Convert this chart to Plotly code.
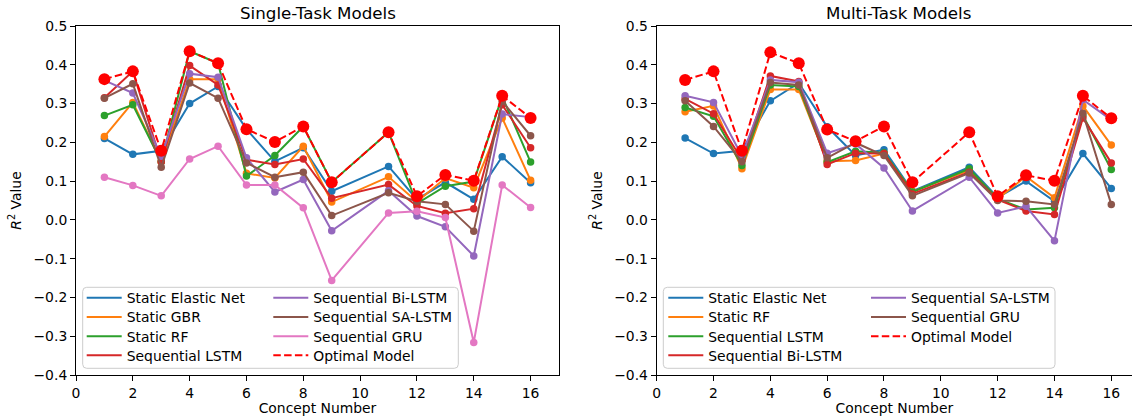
import plotly.graph_objects as go

# ---------------- data ----------------
concepts = [1, 2, 3, 4, 5, 6, 7, 8, 9, 11, 12, 13, 14, 15, 16]
x_ticks = [0, 2, 4, 6, 8, 10, 12, 14, 16]
y_ticks = [-0.4, -0.3, -0.2, -0.1, 0.0, 0.1, 0.2, 0.3, 0.4, 0.5]

# Single-task models
st_elastic_net = [0.210, 0.169, 0.178, 0.300, 0.344, 0.234, 0.151, 0.186, 0.074, 0.138, 0.053, 0.097, 0.053, 0.163, 0.096]
st_gbr         = [0.215, 0.303, 0.150, 0.363, 0.363, 0.120, 0.108, 0.190, 0.046, 0.111, 0.047, 0.108, 0.083, 0.263, 0.102]
st_rf          = [0.269, 0.297, 0.150, 0.435, 0.404, 0.113, 0.166, 0.241, 0.097, 0.226, 0.042, 0.087, 0.099, 0.318, 0.149]
st_lstm        = [0.315, 0.383, 0.150, 0.398, 0.348, 0.155, 0.143, 0.157, 0.056, 0.091, 0.036, 0.017, 0.029, 0.297, 0.186]
st_bilstm      = [0.360, 0.327, 0.164, 0.377, 0.368, 0.160, 0.072, 0.104, -0.028, 0.075, 0.010, -0.018, -0.093, 0.273, 0.265]
st_salstm      = [0.314, 0.351, 0.136, 0.353, 0.314, 0.147, 0.110, 0.123, 0.011, 0.070, 0.048, 0.040, -0.029, 0.306, 0.217]
st_gru         = [0.110, 0.089, 0.062, 0.157, 0.190, 0.090, 0.090, 0.031, -0.156, 0.018, 0.022, 0.006, -0.316, 0.090, 0.032]
st_optimal     = [0.363, 0.383, 0.178, 0.435, 0.404, 0.234, 0.201, 0.241, 0.097, 0.226, 0.061, 0.116, 0.101, 0.320, 0.263]

# Multi-task models
mt_elastic_net = [0.211, 0.171, 0.178, 0.307, 0.353, 0.240, 0.166, 0.181, 0.074, 0.136, 0.058, 0.100, 0.048, 0.171, 0.081]
mt_rf          = [0.279, 0.294, 0.132, 0.336, 0.336, 0.151, 0.153, 0.171, 0.073, 0.128, 0.055, 0.112, 0.057, 0.294, 0.193]
mt_lstm        = [0.290, 0.267, 0.140, 0.348, 0.344, 0.149, 0.177, 0.173, 0.072, 0.132, 0.054, 0.027, 0.031, 0.269, 0.130]
mt_bilstm      = [0.312, 0.274, 0.155, 0.371, 0.357, 0.143, 0.172, 0.171, 0.067, 0.123, 0.052, 0.023, 0.014, 0.263, 0.147]
mt_salstm      = [0.320, 0.303, 0.165, 0.361, 0.355, 0.172, 0.196, 0.134, 0.023, 0.110, 0.018, 0.035, -0.054, 0.310, 0.258]
mt_gru         = [0.307, 0.241, 0.150, 0.354, 0.348, 0.160, 0.199, 0.166, 0.062, 0.121, 0.050, 0.048, 0.040, 0.275, 0.040]
mt_optimal     = [0.361, 0.383, 0.178, 0.432, 0.404, 0.233, 0.203, 0.241, 0.097, 0.226, 0.061, 0.115, 0.101, 0.320, 0.262]

single_names = ["Static Elastic Net", "Static GBR", "Static RF", "Sequential LSTM",
                "Sequential Bi-LSTM", "Sequential SA-LSTM", "Sequential GRU"]
single_series = [st_elastic_net, st_gbr, st_rf, st_lstm, st_bilstm, st_salstm, st_gru]
multi_names = ["Static Elastic Net", "Static RF", "Sequential LSTM", "Sequential Bi-LSTM",
               "Sequential SA-LSTM", "Sequential GRU"]
multi_series = [mt_elastic_net, mt_rf, mt_lstm, mt_bilstm, mt_salstm, mt_gru]
optimal_name = "Optimal Model"

# ---------------- styling ----------------
palette = ["#1f77b4", "#ff7f0e", "#2ca02c", "#d62728", "#9467bd", "#8c564b", "#e377c2"]
opt_color = "#ff0000"
FONT = "DejaVu Sans"
W, H = 1132, 416
L, R, T, B = 76, 0, 26, 41
pw, ph = W - L - R, H - T - B


def px(x):
    return (x - L) / pw


def py(y):
    return (H - B - y) / ph


fig = go.Figure()
legend_layouts = {}
legend_count = [0]


def add_panel(names, series, optimal, xa, ya, col_starts, row_centers):
    entries = []
    for i, (nm, ys) in enumerate(zip(names, series)):
        entries.append((nm, ys, palette[i], "solid", 7.5))
    entries.append((optimal_name, optimal, opt_color, "7.5px,3.3px", 12))
    n_rows = 4
    for k, (nm, ys, col, dash, msize) in enumerate(entries):
        legend_count[0] += 1
        lid = "legend" if legend_count[0] == 1 else f"legend{legend_count[0]}"
        c, r = divmod(k, n_rows)
        legend_layouts[lid] = dict(
            x=px(col_starts[c] - 5), y=py(row_centers[r]), xanchor="left", yanchor="middle",
            bgcolor="rgba(0,0,0,0)", borderwidth=0, itemwidth=35,
            font=dict(family=FONT, size=13.9, color="black"),
        )
        fig.add_trace(go.Scatter(
            x=concepts, y=ys, mode="lines", name=nm, xaxis=xa, yaxis=ya,
            line=dict(color=col, width=2, dash=dash), legend=lid, showlegend=True,
            hoverinfo="skip",
        ))
        fig.add_trace(go.Scatter(
            x=concepts, y=ys, mode="markers", name=nm, xaxis=xa, yaxis=ya,
            marker=dict(color=col, size=msize, line=dict(width=0)), showlegend=False,
            hoverinfo="skip",
        ))


row_centers = [298.3, 317.4, 336.6, 355.7]
add_panel(single_names, single_series, st_optimal, "x", "y", [86.7, 273.3], row_centers)
add_panel(multi_names, multi_series, mt_optimal, "x2", "y2", [668.3, 871.0], row_centers)


def rounded_box(x0, y0, x1, y1, rad=4):
    rx, ry = rad / pw, rad / ph
    X0, X1 = px(x0), px(x1)
    Yt, Yb = py(y0), py(y1)
    return (f"M{X0 + rx},{Yt} L{X1 - rx},{Yt} Q{X1},{Yt} {X1},{Yt - ry} "
            f"L{X1},{Yb + ry} Q{X1},{Yb} {X1 - rx},{Yb} L{X0 + rx},{Yb} "
            f"Q{X0},{Yb} {X0},{Yb + ry} L{X0},{Yt - ry} Q{X0},{Yt} {X0 + rx},{Yt} Z")


shapes = [
    dict(type="path", xref="paper", yref="paper", path=rounded_box(82.7, 287.3, 458.3, 368.3),
         fillcolor="rgba(255,255,255,0.8)", line=dict(color="#cccccc", width=1), layer="above"),
    dict(type="path", xref="paper", yref="paper", path=rounded_box(663.3, 287.3, 1055.0, 368.3),
         fillcolor="rgba(255,255,255,0.8)", line=dict(color="#cccccc", width=1), layer="above"),
]

title_font = dict(family=FONT, size=13.9, color="black")
axis_common = dict(showline=True, linecolor="black", linewidth=1, ticks="outside", ticklen=5,
                   tickwidth=1, tickcolor="black", showgrid=False, zeroline=False,
                   tickfont=dict(family=FONT, size=13.9, color="black"))
xtitle = dict(text="Concept Number", font=title_font, standoff=4)
ytitle = dict(text="<i>R</i><sup>2</sup> Value", font=title_font, standoff=8)

left_end = 559.0
right_start = 656.7
unit = (left_end - L) / 17.0

annotations = [
    dict(text="Single-Task Models", x=px((L + left_end) / 2), y=py(13), xref="paper", yref="paper",
         showarrow=False, font=dict(family=FONT, size=16.7, color="black"), xanchor="center", yanchor="middle"),
    dict(text="Multi-Task Models", x=px(right_start + 8.5 * unit), y=py(13), xref="paper", yref="paper",
         showarrow=False, font=dict(family=FONT, size=16.7, color="black"), xanchor="center", yanchor="middle"),
]

fig.update_layout(
    width=W, height=H, margin=dict(l=L, r=R, t=T, b=B, autoexpand=False),
    paper_bgcolor="white", plot_bgcolor="white",
    font=dict(family=FONT, size=13.9, color="black"),
    xaxis=dict(domain=[0, px(left_end)], range=[0, 17], tickvals=x_ticks, mirror=True, anchor="y",
               title=xtitle, automargin=False, **axis_common),
    yaxis=dict(domain=[0, 1], range=[-0.4, 0.5], tickvals=y_ticks, tickformat=".1f", mirror=True, anchor="x",
               title=ytitle, automargin=False, **axis_common),
    xaxis2=dict(domain=[px(right_start), 1], range=[0, (W - right_start) / unit], tickvals=x_ticks,
                mirror=True, anchor="y2", title=xtitle, automargin=False, **axis_common),
    yaxis2=dict(domain=[0, 1], range=[-0.4, 0.5], tickvals=y_ticks, tickformat=".1f", mirror=False,
                anchor="x2", title=ytitle, automargin=False, **axis_common),
    shapes=shapes,
    annotations=annotations,
    showlegend=True,
    **legend_layouts,
)

fig.write_html("out.html")
